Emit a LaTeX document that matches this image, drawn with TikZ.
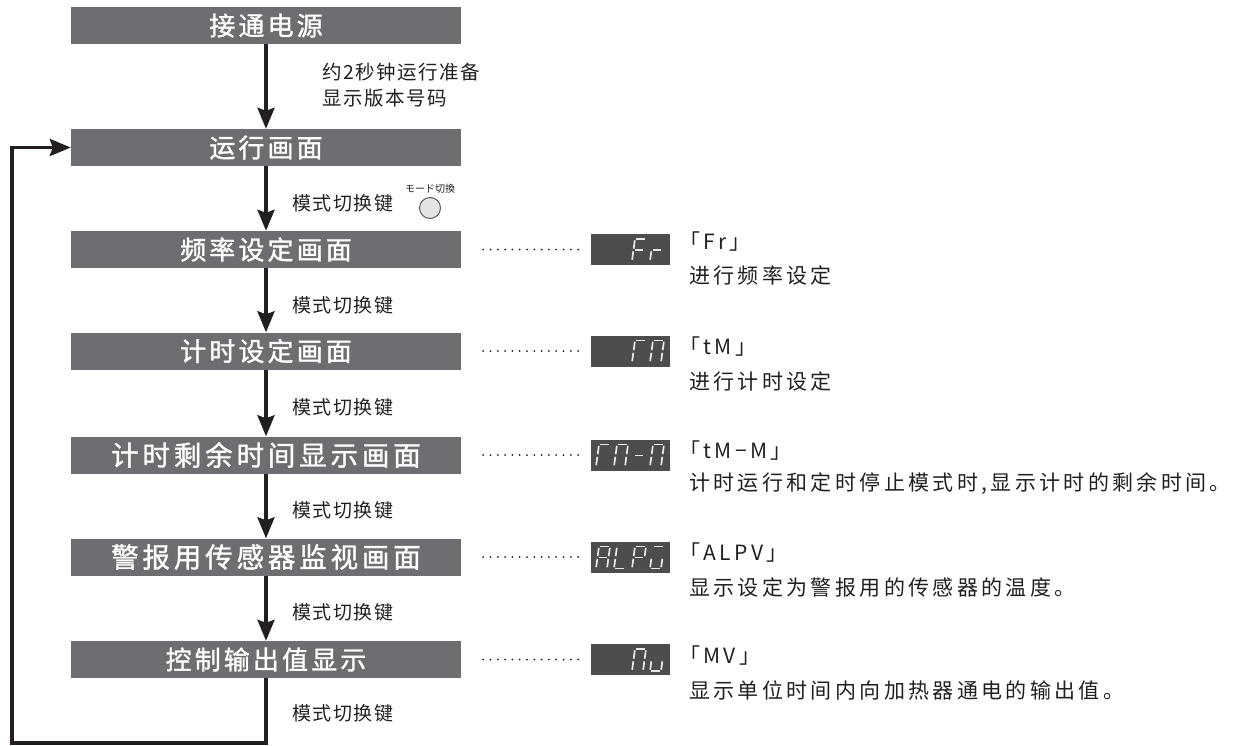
\documentclass[tikz,border=0pt]{standalone}
\usepackage{fontspec}
\setmainfont{Noto Sans CJK SC}
\newfontfamily\cjkkey{Noto Sans CJK SC}[LetterSpace=8]
\newfontfamily\cjktop{Noto Sans CJK SC}[LetterSpace=8]
\newfontfamily\cjkdesc{Noto Sans CJK SC}[LetterSpace=16]
\newfontfamily\cjkb{Noto Sans CJK SC}[LetterSpace=12,FakeBold=1.2]
\newfontfamily\cjkbw{Noto Sans CJK SC}[LetterSpace=14,FakeBold=1.2]
\newfontfamily\jpfont{Noto Sans CJK JP}
\usetikzlibrary{arrows.meta}
\definecolor{ink}{RGB}{35,31,32}
\definecolor{boxgray}{RGB}{109,110,113}
\definecolor{dispgray}{RGB}{77,77,79}
\definecolor{segcol}{RGB}{232,232,232}
\definecolor{btnfill}{RGB}{228,228,230}
\def\sW{11}\def\sH{22}\def\sS{3}
\newcommand\segA[2]{\draw[segline] ({#1+\sS},{#2-\sH}) -- ({#1+\sW+\sS},{#2-\sH});}
\newcommand\segB[2]{\draw[segline] ({#1+\sW+\sS},{#2-\sH}) -- ({#1+\sW+\sS/2},{#2-\sH/2});}
\newcommand\segC[2]{\draw[segline] ({#1+\sW+\sS/2},{#2-\sH/2}) -- ({#1+\sW},{#2});}
\newcommand\segD[2]{\draw[segline] ({#1},{#2}) -- ({#1+\sW},{#2});}
\newcommand\segE[2]{\draw[segline] ({#1+\sS/2},{#2-\sH/2}) -- ({#1},{#2});}
\newcommand\segF[2]{\draw[segline] ({#1+\sS},{#2-\sH}) -- ({#1+\sS/2},{#2-\sH/2});}
\newcommand\segG[2]{\draw[segline] ({#1+\sS/2},{#2-\sH/2}) -- ({#1+\sW+\sS/2},{#2-\sH/2});}
\newcommand\segdigit[3]{\foreach \s in {#3}{\csname seg\s\endcsname{#1}{#2}}}
\begin{document}
\begin{tikzpicture}[x=1pt,y=-1pt,
  title/.style={fill=boxgray, text=white, minimum width=390pt, minimum height=37pt, inner sep=0pt, font=\cjkb\fontsize{26}{28}\selectfont},
  widetitle/.style={title, font=\cjkbw\fontsize{27.5}{29}\selectfont},
  flow/.style={line width=3.5pt, draw=ink, line join=miter, -{Stealth[length=21pt,width=17pt,inset=3pt]}},
  keylbl/.style={anchor=west, inner sep=0pt, text=ink, font=\cjkkey\fontsize{19}{21}\selectfont},
  toplbl/.style={anchor=west, inner sep=0pt, text=ink, font=\cjktop\fontsize{19.5}{22}\selectfont},
  desc/.style={anchor=west, inner sep=0pt, text=ink, font=\cjkdesc\fontsize{21}{24}\selectfont, align=left},
  disp/.style={fill=dispgray, minimum width=79pt, minimum height=31pt, inner sep=0pt},
  dotline/.style={draw=ink, line width=2pt, line cap=round, dash pattern=on 0pt off 7.3pt, shorten <=22pt, shorten >=6pt},
  segline/.style={draw=segcol, line width=1.7pt, shorten <=1.3pt, shorten >=1.3pt}]
\useasboundingbox (0,0) rectangle (1234,745);
% main boxes
\node[title] (b1) at (266,25.5) {接通电源};
\node[title] (b2) at (266,147.5) {运行画面};
\node[title] (b3) at (266,249.5) {频率设定画面};
\node[title] (b4) at (266,351) {计时设定画面};
\node[widetitle] (b5) at (266,455) {计时剩余时间显示画面};
\node[widetitle] (b6) at (266,557) {警报用传感器监视画面};
\node[title] (b7) at (266,659.5) {控制输出值显示};
% flow arrows
\draw[flow] (b1) -- (b2);
\draw[flow] (b2) -- (b3);
\draw[flow] (b3) -- (b4);
\draw[flow] (b4) -- (b5);
\draw[flow] (b5) -- (b6);
\draw[flow] (b6) -- (b7);
\coordinate (lb) at (266,743);
\coordinate (ll) at (12,743);
\draw[flow] (b7.south) -- (lb) -- (ll) |- (b2.west);
% arrow labels
\node[toplbl] (t1a) at (322,72) {约2秒钟运行准备};
\node[toplbl] (t1b) at (322,98) {显示版本号码};
\node[keylbl] (k2) at (292,203) {模式切换键};
\node[keylbl] (k3) at (292,305) {模式切换键};
\node[keylbl] (k4) at (292,407) {模式切换键};
\node[keylbl] (k5) at (292,510) {模式切换键};
\node[keylbl] (k6) at (292,612) {模式切换键};
\node[keylbl] (k7) at (292,713) {模式切换键};
% button
\node[circle, draw=ink!80, fill=btnfill, line width=0.9pt, minimum size=21pt, inner sep=0pt] (btn) at (430,208) {};
\node[inner sep=0pt, text=ink, font=\jpfont\fontsize{10}{11}\selectfont] (btnlbl) at (430,189) {モード切換};
% displays
\node[disp] (d3) at (630.5,249.5) {};
\node[disp] (d4) at (630.5,351) {};
\node[disp] (d5) at (630.5,455) {};
\node[disp] (d6) at (630.5,557) {};
\node[disp] (d7) at (630.5,659.5) {};
\draw[dotline] (b3.east) -- (d3.west);
\draw[dotline] (b4.east) -- (d4.west);
\draw[dotline] (b5.east) -- (d5.west);
\draw[dotline] (b6.east) -- (d6.west);
\draw[dotline] (b7.east) -- (d7.west);
% seven-segment contents
\segdigit{632}{261}{A,F,E,G}
\segdigit{650}{261}{E,G}
\segdigit{632}{362.5}{A,F,E}
\segdigit{650}{362.5}{A,B,C,E,F}
\segdigit{596}{466.5}{A,F,E}
\segdigit{614}{466.5}{A,B,C,E,F}
\segdigit{632}{466.5}{G}
\segdigit{650}{466.5}{A,B,C,E,F}
\segdigit{596}{568.5}{A,B,C,E,F,G}
\segdigit{614}{568.5}{F,E,D}
\segdigit{632}{568.5}{A,B,F,G,E}
\segdigit{650}{568.5}{A,C,D,E}
\segdigit{632}{671}{A,B,C,E,F}
\segdigit{650}{671}{C,D,E}
% right labels
\node[desc] (l3) at (679,242) {「Fr」};
\node[desc] (e3) at (689,275) {进行频率设定};
\node[desc] (l4) at (679,347) {「tM」};
\node[desc] (e4) at (689,381) {进行计时设定};
\node[desc] (l5) at (679,451) {「tM−M」};
\node[desc] (e5) at (689,484) {计时运行和定时停止模式时,显示计时的剩余时间。};
\node[desc] (l6) at (679,553) {「ALPV」};
\node[desc] (e6) at (689,587) {显示设定为警报用的传感器的温度。};
\node[desc] (l7) at (679,656) {「MV」};
\node[desc] (e7) at (689,690) {显示单位时间内向加热器通电的输出值。};
\end{tikzpicture}
\end{document}
